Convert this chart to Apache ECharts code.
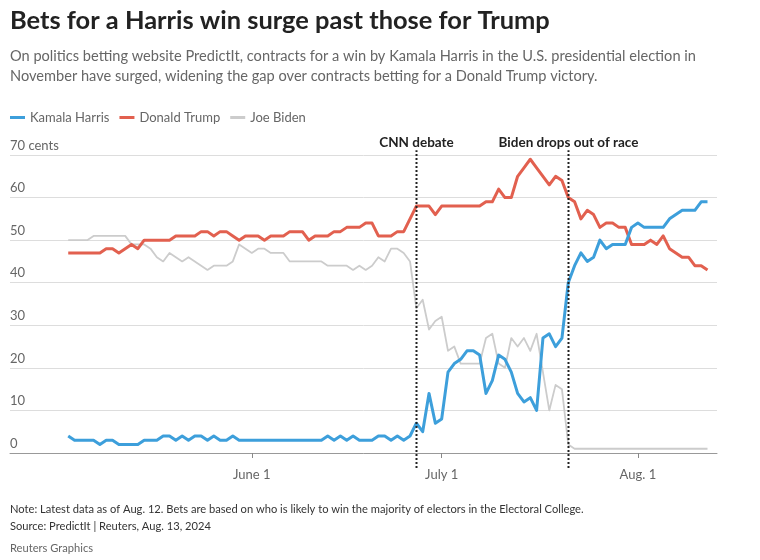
<!DOCTYPE html>
<html>
<head>
<meta charset="utf-8">
<script src="https://cdn.jsdelivr.net/npm/echarts@6/dist/echarts.min.js"></script>
<style>
html,body{margin:0;padding:0;background:#fff;}
#chart{width:760px;height:560px;}
</style>
</head>
<body>
<div id="chart"></div>
<script>
// ---- Data (daily values, PredictIt contract prices in cents) ----
// First data day: May 3, 2024; one value per day through Aug 12, 2024
const firstDay = [2024, 4, 3];
const harris = [
  4,3,3,3,3,2,3,3,2,2,
  2,2,3,3,3,4,4,3,4,3,
  4,4,3,4,3,3,4,3,3,3,
  3,3,3,3,3,3,3,3,3,3,
  3,4,3,4,3,4,3,3,3,4,
  4,3,4,3,4,7,5,14,7,8,
  19,21,22,24,24,23,14,17,23,22,
  19,14,12,13,10,27,28,25,27,40,
  44,47,45,46,50,48,49,49,49,53,
  54,53,53,53,53,55,56,57,57,57,
  59,59
];
const trump = [
  47,47,47,47,47,47,48,48,47,48,
  49,48,50,50,50,50,50,51,51,51,
  51,52,52,51,52,52,51,50,51,51,
  51,50,51,51,51,52,52,52,50,51,
  51,51,52,52,53,53,53,54,54,51,
  51,51,52,52,55,58,58,58,56,58,
  58,58,58,58,58,58,59,59,62,60,
  60,65,67,69,67,65,63,65,64,60,
  59,55,57,56,53,54,54,53,53,49,
  49,49,50,49,51,48,47,46,46,44,
  44,43
];
const biden = [
  50,50,50,50,51,51,51,51,51,51,
  49,49,49,48,46,45,47,46,45,46,
  45,44,43,44,44,44,45,49,48,47,
  48,48,47,47,47,45,45,45,45,45,
  45,44,44,44,44,43,44,43,44,46,
  45,48,48,47,45,34,36,29,31,32,
  24,25,21,21,21,21,27,28,21,20,
  27,25,27,24,28,19,10,16,15,2,
  1,1,1,1,1,1,1,1,1,1,
  1,1,1,1,1,1,1,1,1,1,
  1,1
];
const seriesNames = ['Kamala Harris', 'Donald Trump', 'Joe Biden'];
const tickDates = [[2024, 5, 1], [2024, 6, 1], [2024, 7, 1]];
const tickLabels = ['June 1', 'July 1', 'Aug. 1'];
const eventDates = [[2024, 5, 27], [2024, 6, 21]];
const eventLabels = ['CNN debate', 'Biden drops out of race'];
const yTicks = [0, 10, 20, 30, 40, 50, 60, 70];

// ---- Build ----
const DAY = 86400000;
const ts = (a) => new Date(a[0], a[1], a[2]).getTime();
const days = harris.map((_, i) => new Date(firstDay[0], firstDay[1], firstDay[2] + i).getTime());
const tickTs = tickDates.map(ts);
const FONT = 'Lato, "Source Sans Pro", Roboto, sans-serif';

const cv = document.createElement('canvas').getContext('2d');
function fit(text, weight, target) {
  cv.font = weight + ' 100px ' + FONT;
  return 100 * target / cv.measureText(text).width;
}
const titleText = 'Bets for a Harris win surge past those for Trump';
const sub1 = 'On politics betting website PredictIt, contracts for a win by Kamala Harris in the U.S. presidential election in';
const sub2 = 'November have surged, widening the gap over contracts betting for a Donald Trump victory.';
const note = 'Note: Latest data as of Aug. 12. Bets are based on who is likely to win the majority of electors in the Electoral College.';
const source = 'Source: PredictIt | Reuters, Aug. 13, 2024';
const credit = 'Reuters Graphics';
const titleSize = fit(titleText, 'bold', 540);
const subSize = fit(sub1, 'normal', 686);
const noteSize = fit(note, 'normal', 574);

const chart = echarts.init(document.getElementById('chart'), null, {renderer: 'canvas'});
const colors = ['#3d9fdb', '#e2604f', '#cccccc'];
const widths = [3, 3, 1.8];
const values = [harris, trump, biden];

const series = [2, 1, 0].map(k => ({
  name: seriesNames[k],
  type: 'line',
  showSymbol: false,
  symbol: 'none',
  z: 3 - k,
  lineStyle: {color: colors[k], width: widths[k], join: 'round'},
  itemStyle: {color: colors[k]},
  data: days.map((d, i) => [d, values[k][i]])
}));
series.push({
  type: 'custom',
  name: 'events',
  silent: true,
  clip: false,
  z: 10,
  data: eventDates.map((e, j) => [ts(e), j]),
  renderItem: (params, api) => {
    const v = api.value(0);
    const x = Math.round(api.coord([v, 0])[0]) + 0.5;
    const yb = api.coord([v, -3.5])[1];
    const yt = api.coord([v, 71.1])[1];
    return {
      type: 'group',
      children: [
        {type: 'line', shape: {x1: x, y1: yb, x2: x, y2: yt},
         style: {stroke: '#222', lineWidth: 2, lineDash: [2, 2]}},
        {type: 'text', x: x, y: yt - 1,
         style: {text: eventLabels[api.value(1)], align: 'center', verticalAlign: 'bottom',
                 font: 'bold 13.5px ' + FONT, fill: '#222'}}
      ]
    };
  }
});

chart.setOption({
  animation: false,
  textStyle: {fontFamily: FONT},
  grid: {left: 10, right: 43, top: 155, bottom: 107, containLabel: false},
  legend: {
    left: 10, top: 111, padding: 0,
    icon: 'rect', itemWidth: 15, itemHeight: 3, itemGap: 10,
    textStyle: {color: '#666', fontSize: 13, fontFamily: FONT},
    data: seriesNames
  },
  xAxis: {
    type: 'value',
    min: ts([2024, 3, 24]) - 0.2 * DAY,
    max: ts([2024, 7, 13]) + 0.5 * DAY,
    axisLine: {show: true, onZero: false, lineStyle: {color: '#999', width: 1}},
    axisTick: {show: true, customValues: tickTs, length: 5, lineStyle: {color: '#888'}},
    axisLabel: {
      customValues: tickTs,
      margin: 15, color: '#666', fontSize: 13, fontFamily: FONT,
      formatter: (v) => {
        let best = 0;
        tickTs.forEach((t, i) => { if (Math.abs(t - v) < Math.abs(tickTs[best] - v)) best = i; });
        return tickLabels[best];
      }
    },
    splitLine: {show: false}
  },
  yAxis: {
    type: 'value', min: 0, max: 70, interval: 10,
    axisLine: {show: false}, axisTick: {show: false},
    axisLabel: {
      inside: true, margin: 0, verticalAlign: 'bottom', padding: [0, 0, 3, 0],
      color: '#666', fontSize: 13, fontFamily: FONT,
      formatter: (v) => (v === yTicks[yTicks.length - 1] ? v + ' cents' : String(v))
    },
    splitLine: {show: true, lineStyle: {color: '#dddddd', width: 1}}
  },
  series: series,
  graphic: [
    {type: 'text', left: 10, top: 8, style: {text: titleText, font: 'bold ' + titleSize.toFixed(2) + 'px ' + FONT, fill: '#222'}},
    {type: 'text', left: 10, top: 49, style: {text: sub1, font: 'normal ' + subSize.toFixed(2) + 'px ' + FONT, fill: '#666'}},
    {type: 'text', left: 10, top: 69, style: {text: sub2, font: 'normal ' + subSize.toFixed(2) + 'px ' + FONT, fill: '#666'}},
    {type: 'text', left: 10, top: 504, style: {text: note, font: 'normal ' + noteSize.toFixed(2) + 'px ' + FONT, fill: '#333'}},
    {type: 'text', left: 10, top: 521, style: {text: source, font: 'normal ' + noteSize.toFixed(2) + 'px ' + FONT, fill: '#333'}},
    {type: 'text', left: 10, top: 543, style: {text: credit, font: 'normal ' + noteSize.toFixed(2) + 'px ' + FONT, fill: '#666'}}
  ]
});
</script>
</body>
</html>
